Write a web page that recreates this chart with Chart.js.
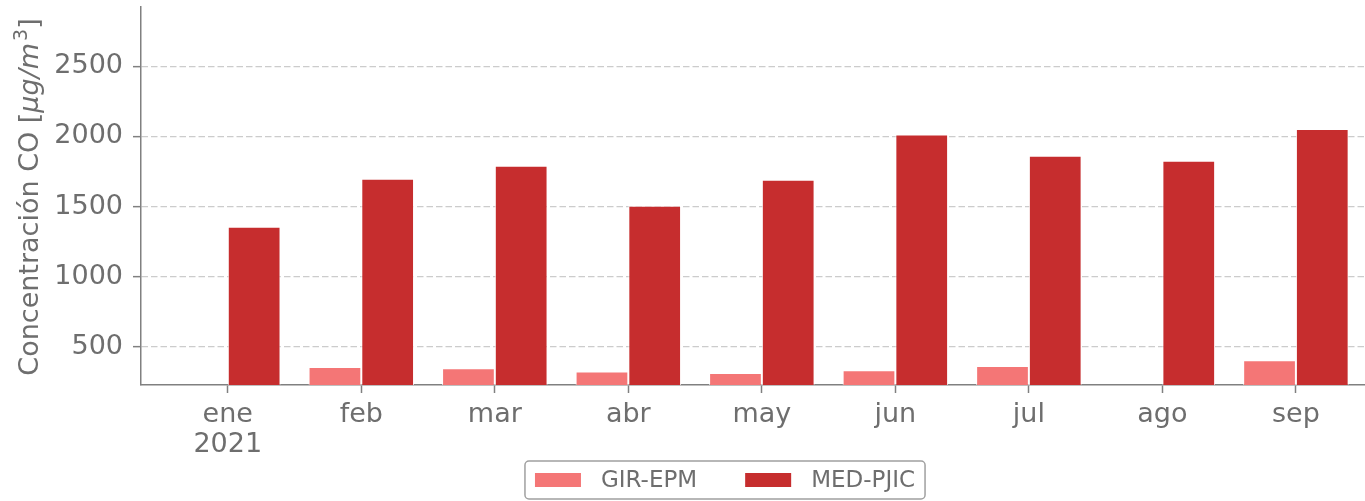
<!DOCTYPE html>
<html>
<head>
<meta charset="utf-8">
<script src="https://cdn.jsdelivr.net/npm/chart.js@4/dist/chart.umd.min.js"></script>
<style>
  html, body { margin: 0; padding: 0; background: #fff; }
</style>
</head>
<body>
<canvas id="coChart" width="1365" height="501"></canvas>
<script>
const months = ['ene', 'feb', 'mar', 'abr', 'may', 'jun', 'jul', 'ago', 'sep'];
const yearLabel = '2021';
const seriesNames = ['GIR-EPM', 'MED-PJIC'];
const girEpm = [null, 354, 345, 323, 311, 331, 361, null, 402];
const medPjic = [1355, 1698, 1791, 1505, 1691, 2014, 1862, 1826, 2053];
const yTicks = [500, 1000, 1500, 2000, 2500];

const textColor = '#6e6e6e';
const axisColor = '#808080';
const family = '"DejaVu Sans", sans-serif';

// y title: "Concentración CO [" + italic "μg/m" + superscript "3" + "]"
const yTitleParts = [
  { text: 'Concentración CO [', style: '', size: 27, rise: 0 },
  { text: 'μg/m', style: 'italic ', size: 27, rise: 0 },
  { text: '3', style: '', size: 19, rise: 11 },
  { text: ']', style: '', size: 27, rise: 0 }
];

const mathTitle = {
  id: 'mathTitle',
  afterDraw(chart) {
    const ctx = chart.ctx;
    const area = chart.chartArea;
    ctx.save();
    const widths = yTitleParts.map(p => {
      ctx.font = p.style + p.size + 'px ' + family;
      return ctx.measureText(p.text).width;
    });
    const total = widths.reduce((a, w) => a + w, 0) + 2;
    ctx.translate(38, (area.top + area.bottom) / 2 + 1);
    ctx.rotate(-Math.PI / 2);
    ctx.fillStyle = textColor;
    ctx.textBaseline = 'alphabetic';
    ctx.textAlign = 'left';
    let x = -total / 2;
    yTitleParts.forEach((p, i) => {
      ctx.font = p.style + p.size + 'px ' + family;
      ctx.fillText(p.text, x, -p.rise);
      x += widths[i] + (i === 1 ? 2 : 0);
    });
    ctx.restore();
  }
};

// legend drawn by hand so it can get the framed matplotlib look
const boxedLegend = {
  id: 'boxedLegend',
  afterDraw(chart) {
    const ctx = chart.ctx;
    const sw = 46, sh = 14, gap = 20, itemGap = 48, pad = 10;
    ctx.save();
    ctx.font = '23px ' + family;
    const sets = chart.data.datasets;
    const widths = sets.map(d => ctx.measureText(d.label).width);
    const total = pad * 2 + widths.reduce((a, w) => a + sw + gap + w, 0) + itemGap * (sets.length - 1);
    const left = 725 - total / 2, top = 461, h = 38;
    ctx.beginPath();
    ctx.roundRect(left, top, total, h, 4);
    ctx.fillStyle = 'rgba(255,255,255,0.8)';
    ctx.fill();
    ctx.lineWidth = 1.5;
    ctx.strokeStyle = '#a0a0a0';
    ctx.stroke();
    let x = left + pad;
    const cy = top + h / 2;
    sets.forEach((d, i) => {
      ctx.fillStyle = d.backgroundColor;
      ctx.fillRect(x, cy - sh / 2, sw, sh);
      ctx.fillStyle = textColor;
      ctx.textAlign = 'left';
      ctx.textBaseline = 'middle';
      ctx.fillText(d.label, x + sw + gap, cy + 1);
      x += sw + gap + widths[i] + itemGap;
    });
    ctx.restore();
  }
};

const ctx = document.getElementById('coChart').getContext('2d');
new Chart(ctx, {
  type: 'bar',
  data: {
    datasets: [{
      label: seriesNames[0],
      data: girEpm.map((v, i) => ({ x: i, y: v })),
      backgroundColor: '#f47676',
      borderColor: 'rgba(255,255,255,0.8)',
      borderWidth: 1
    }, {
      label: seriesNames[1],
      data: medPjic.map((v, i) => ({ x: i, y: v })),
      backgroundColor: '#c62d2e',
      borderColor: 'rgba(255,255,255,0.8)',
      borderWidth: 1
    }]
  },
  options: {
    responsive: false,
    animation: false,
    categoryPercentage: 0.79,
    barPercentage: 1,
    layout: { padding: { top: 7, right: 1, bottom: 40, left: 0 } },
    scales: {
      x: {
        type: 'linear',
        min: -0.65,
        max: 8.51,
        offset: false,
        afterBuildTicks: s => { s.ticks = months.map((m, i) => ({ value: i })); },
        afterFit: s => { s.height = 76; },
        ticks: {
          callback: v => v === 0 ? [months[0], yearLabel] : months[v],
          font: { family, size: 27, lineHeight: 1.1 },
          color: textColor,
          padding: 7,
          maxRotation: 0,
          autoSkip: false
        },
        grid: {
          offset: false,
          drawOnChartArea: false,
          drawTicks: true,
          tickLength: 8,
          tickColor: axisColor,
          tickWidth: 1.5
        },
        border: { display: true, color: axisColor, width: 1.5 }
      },
      y: {
        min: 226,
        max: 2924,
        z: 1,
        afterBuildTicks: s => { s.ticks = yTicks.map(v => ({ value: v })); },
        afterFit: s => { s.width = 141; s.paddingTop = 0; s.paddingBottom = 0; },
        ticks: {
          callback: v => String(v),
          font: { family, size: 27 },
          color: textColor,
          padding: 10
        },
        grid: {
          color: '#cccccc',
          lineWidth: 1.3,
          tickLength: 8,
          tickColor: axisColor,
          tickWidth: 1.5,
          tickBorderDash: []
        },
        border: { display: true, color: axisColor, width: 1.5, dash: [6.5, 3] }
      }
    },
    plugins: {
      legend: { display: false },
      tooltip: { enabled: false }
    }
  },
  plugins: [mathTitle, boxedLegend]
});
</script>
</body>
</html>
